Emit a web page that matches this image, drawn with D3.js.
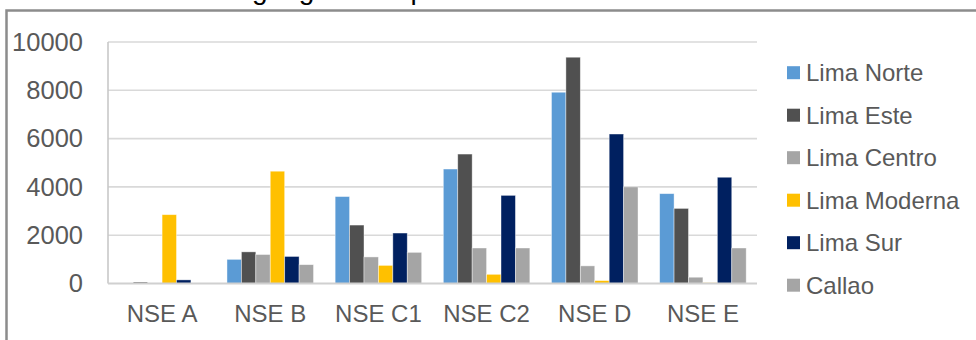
<!DOCTYPE html>
<html>
<head>
<meta charset="utf-8">
<script src="https://cdn.jsdelivr.net/npm/d3@7/dist/d3.min.js"></script>
<style>
  html, body { margin: 0; padding: 0; background: #fff; }
  svg { display: block; }
  text { font-family: "Liberation Sans", Arial, sans-serif; }
</style>
</head>
<body>
<svg id="chart" width="976" height="340"></svg>
<script>
// Household counts by socioeconomic level (NSE) and Lima zone
const categories = ["NSE A", "NSE B", "NSE C1", "NSE C2", "NSE D", "NSE E"];
const seriesNames = ["Lima Norte", "Lima Este", "Lima Centro", "Lima Moderna", "Lima Sur", "Callao"];
const limaNorte   = [10, 1000, 3600, 4740, 7920, 3720];
const limaEste    = [60, 1310, 2420, 5360, 9370, 3110];
const limaCentro  = [20, 1200, 1100, 1470, 730, 260];
const limaModerna = [2850, 4650, 750, 380, 120, 30];
const limaSur     = [150, 1120, 2090, 3650, 6190, 4400];
const callao      = [10, 780, 1290, 1470, 4000, 1470];
const yTicks = [0, 2000, 4000, 6000, 8000, 10000];
const colors = ["#5B9BD5", "#505050", "#A5A5A5", "#FFC000", "#002060", "#A5A5A5"];
const titleText = "Distribución geográfica por NSE";

const seriesValues = [limaNorte, limaEste, limaCentro, limaModerna, limaSur, callao];

const svg = d3.select("#chart");

// outer chart frame (only its top and left edges fall inside the view)
svg.append("rect")
  .attr("x", 6.5).attr("y", 10.5)
  .attr("width", 1000).attr("height", 400)
  .attr("fill", "none")
  .attr("stroke", "#8c8c8c")
  .attr("stroke-width", 2.5);

// title sits above the frame, mostly cropped
svg.append("text")
  .attr("x", 78).attr("y", -1)
  .attr("font-size", 28)
  .attr("word-spacing", 20)
  .attr("fill", "#000")
  .text(titleText);

const plot = { left: 108, right: 757, top: 42, bottom: 283.5 };

const x0 = d3.scaleBand()
  .domain(categories)
  .range([plot.left, plot.right])
  .padding(0);

// 150% gap width between groups
const groupGap = x0.bandwidth() * 0.2;
const x1 = d3.scaleBand()
  .domain(seriesNames)
  .range([groupGap / 2, x0.bandwidth() - groupGap / 2])
  .padding(0);

const y = d3.scaleLinear()
  .domain([0, 10000])
  .range([plot.bottom, plot.top]);

// horizontal gridlines
svg.append("g")
  .selectAll("line")
  .data(yTicks.filter(t => t > 0))
  .join("line")
  .attr("x1", plot.left).attr("x2", plot.right)
  .attr("y1", d => y(d)).attr("y2", d => y(d))
  .attr("stroke", "#d9d9d9")
  .attr("stroke-width", 1.6);

// y axis labels
const yAxis = d3.axisLeft(y).tickValues(yTicks).tickSize(0).tickPadding(0).tickFormat(d3.format("d"));
const yg = svg.append("g").attr("transform", `translate(83,0)`).call(yAxis);
yg.select(".domain").remove();
yg.selectAll("text")
  .attr("font-size", 25.5)
  .attr("fill", "#595959")
  .attr("font-family", "Liberation Sans, Arial, sans-serif");

// bars
const groups = svg.append("g")
  .selectAll("g")
  .data(categories)
  .join("g")
  .attr("transform", d => `translate(${x0(d)},0)`);

groups.selectAll("rect")
  .data((c, ci) => seriesNames.map((s, si) => ({ s, si, v: seriesValues[si][ci] })))
  .join("rect")
  .attr("x", d => x1(d.s))
  .attr("width", x1.bandwidth())
  .attr("y", d => y(d.v))
  .attr("height", d => y(0) - y(d.v))
  .attr("fill", d => colors[d.si])
  .attr("stroke", "rgba(255,255,255,0.55)")
  .attr("stroke-width", 0.75);

// left axis line and baseline
svg.append("line")
  .attr("x1", plot.left).attr("x2", plot.left)
  .attr("y1", plot.top).attr("y2", plot.bottom)
  .attr("stroke", "#c8c8c8").attr("stroke-width", 1.6);
svg.append("line")
  .attr("x1", plot.left).attr("x2", plot.right)
  .attr("y1", plot.bottom).attr("y2", plot.bottom)
  .attr("stroke", "#d0d0d0").attr("stroke-width", 2);

// category labels
const xAxis = d3.axisBottom(x0).tickSize(0).tickPadding(0);
const xg = svg.append("g").attr("transform", `translate(0,${plot.bottom})`).call(xAxis);
xg.select(".domain").remove();
xg.selectAll("text")
  .attr("y", 38.5)
  .attr("dy", 0)
  .attr("font-size", 24)
  .attr("fill", "#595959")
  .attr("font-family", "Liberation Sans, Arial, sans-serif");

// legend
const legend = svg.append("g")
  .selectAll("g")
  .data(seriesNames)
  .join("g")
  .attr("transform", (d, i) => `translate(787,${72.7 + i * 42.5})`);
legend.append("rect")
  .attr("x", 0).attr("y", -6.5)
  .attr("width", 13).attr("height", 13)
  .attr("fill", (d, i) => colors[i]);
legend.append("text")
  .attr("x", 19).attr("y", 8.5)
  .attr("font-size", 24)
  .attr("fill", "#595959")
  .text(d => d);
</script>
</body>
</html>
